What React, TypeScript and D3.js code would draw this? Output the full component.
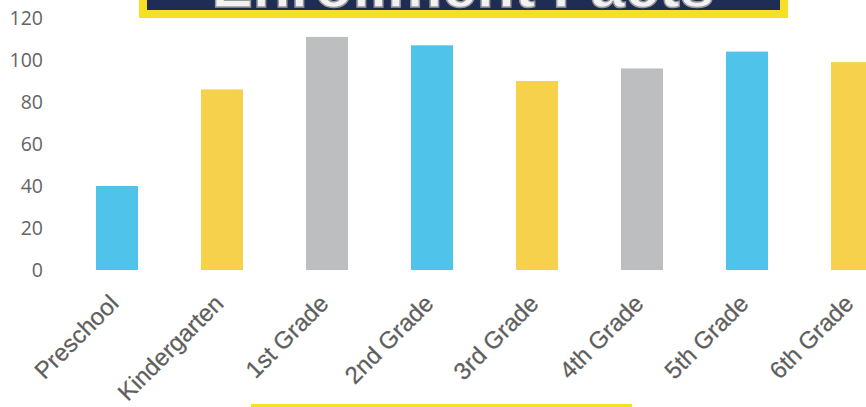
import React from "react";
import * as d3 from "d3";

const categories = ["Preschool", "Kindergarten", "1st Grade", "2nd Grade", "3rd Grade", "4th Grade", "5th Grade", "6th Grade"];
const values = [40, 86, 111, 107, 90, 96, 104, 99];
const barColors = ["#4fc3ea", "#f6d24c", "#bdbec0", "#4fc3ea", "#f6d24c", "#bdbec0", "#4fc3ea", "#f6d24c"];
const yTicks = [0, 20, 40, 60, 80, 100, 120];
const titleText = "Enrollment Facts";

const W = 866;
const H = 407;

export default function App() {
  const x = d3.scaleBand<string>().domain(categories).range([64.5, 904.5]).paddingInner(0.6).paddingOuter(0.3);
  const y = d3.scaleLinear().domain([0, 120]).range([270, 18]);
  return (
    <svg width={W} height={H} style={{ position: "absolute", left: 0, top: 0, background: "#fff" }}>
      {/* title box (cut off at top) */}
      <rect x={139} y={-40} width={649} height={58} fill="#f7df26" />
      <rect x={147} y={-40} width={633} height={50} fill="#1f2c55" />
      <text x={463} y={7} textAnchor="middle" fontFamily="Liberation Sans, Arial, sans-serif" fontWeight="bold" fontSize={62} fill="#f2f2f2" stroke="#9a9a9a" strokeWidth={1.5}>
        {titleText}
      </text>
      {/* bottom yellow bar */}
      <rect x={251} y={404} width={381} height={4} fill="#f7df26" />
      {yTicks.map((t) => (
        <text key={t} x={43} y={y(t)} dy="0.36em" textAnchor="end" fontFamily="Open Sans, sans-serif" fontSize={19.5} fill="#646464">
          {t}
        </text>
      ))}
      {categories.map((c, i) => {
        const bx = x(c)!;
        const bw = x.bandwidth();
        return (
          <rect key={c} x={bx} y={y(values[i])} width={bw} height={y(0) - y(values[i])} fill={barColors[i]} />
        );
      })}
      {categories.map((c) => {
        const cx = x(c)! + x.bandwidth() / 2 + 3;
        const cy = 305;
        return (
          <text key={c} x={cx} y={cy} textAnchor="end" transform={`rotate(-45 ${cx} ${cy})`} fontFamily="Liberation Sans, Arial, sans-serif" fontSize={24} fill="#5e5e5e" stroke="#5e5e5e" strokeWidth={0.25}>
            {c}
          </text>
        );
      })}
    </svg>
  );
}
